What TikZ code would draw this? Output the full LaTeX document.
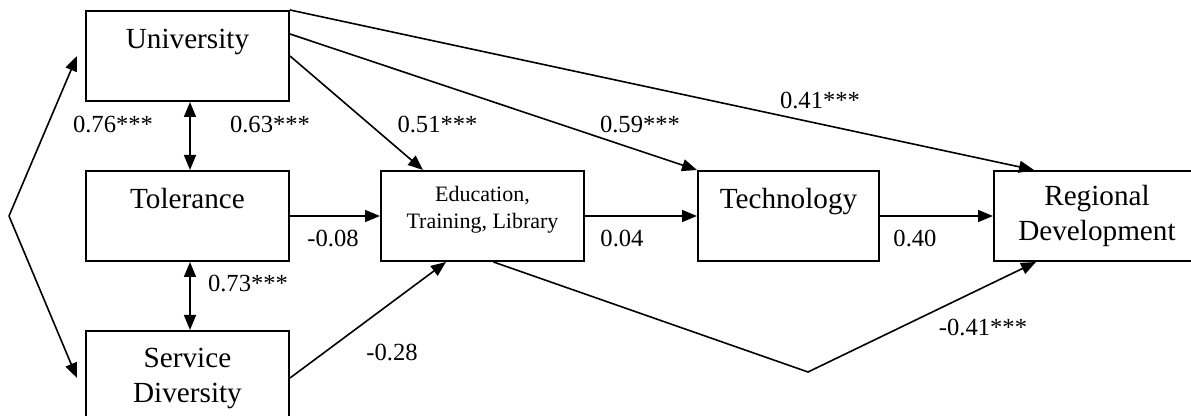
\documentclass[tikz,border=0pt]{standalone}
\usepackage{fontspec}
\setmainfont{Liberation Serif}
\usetikzlibrary{positioning,arrows.meta}

\tikzset{
  box/.style={draw,line width=1pt,minimum width=101.5pt,minimum height=45pt,inner sep=0pt,align=center,font=\fontsize{14.6}{17.5}\selectfont},
  upper/.style={text height=10pt,text depth=17pt},
  coef/.style={inner sep=0pt,font=\fontsize{12.3}{14}\selectfont},
  arr/.style={-{Triangle[length=7.5pt,width=6pt]},line width=0.8pt},
  dbl/.style={{Triangle[length=7.5pt,width=6pt]}-{Triangle[length=7.5pt,width=6pt]},line width=0.8pt}
}

\begin{document}
\begin{tikzpicture}[x=0.5pt,y=-0.5pt]
\useasboundingbox (0,0) rectangle (1191,416);

\node[box,upper] (1) at (187.5,56) {University};
\node[box,upper] (2) [below=34pt of 1] {Tolerance};
\node[box,minimum height=47pt] (3) [below=34pt of 2] {Service\\Diversity};
\node[box,text depth=8.5pt,font=\fontsize{11}{13.5}\selectfont] (4) [right=45pt of 2] {Education,\\Training, Library};
\node[box,upper,minimum width=90.5pt] (5) [right=56pt of 4] {Technology};
\node[box,minimum width=103pt] (6) [right=56.5pt of 5] {Regional\\Development};

\coordinate (c) at ([xshift=-38pt]2.west);
\coordinate (k) at (808,372);

\draw[arr] (c) -- ([xshift=-4pt]1.west);
\draw[arr] (c) -- ([xshift=-4pt]3.west);
\draw[dbl] ([xshift=1.25pt]1.south) -- ([xshift=1.25pt]2.north);
\draw[dbl] ([xshift=1.25pt]2.south) -- ([xshift=1.25pt]3.north);

\draw[arr] (1.north east) -- ([xshift=20.5pt]6.north west);
\draw[arr] ([yshift=11pt]1.east) -- (5.north west);
\draw[arr] (1.east) -- ([xshift=21.5pt]4.north west);
\draw[arr] (2.east) -- (4.west);
\draw[arr] (4.east) -- (5.west);
\draw[arr] (5.east) -- (6.west);
\draw[arr] (3.east) -- ([xshift=33pt]4.south west);
\draw[arr] ([xshift=5.5pt]4.south) -- (k) -- ([xshift=21.5pt]6.south west);

\node[coef] (l1) at (113,125) {0.76***};
\node[coef] (l2) at (270,125) {0.63***};
\node[coef] (l3) at (248,283) {0.73***};
\node[coef] (l4) at (437.5,125) {0.51***};
\node[coef] (l5) at (640,125) {0.59***};
\node[coef] (l6) at (820,100) {0.41***};
\node[coef] (l7) at (333,238) {-0.08};
\node[coef] (l8) at (622,238) {0.04};
\node[coef] (l9) at (915,238) {0.40};
\node[coef] (l10) at (392,352) {-0.28};
\node[coef] (l11) at (983,327) {-0.41***};

\end{tikzpicture}
\end{document}
